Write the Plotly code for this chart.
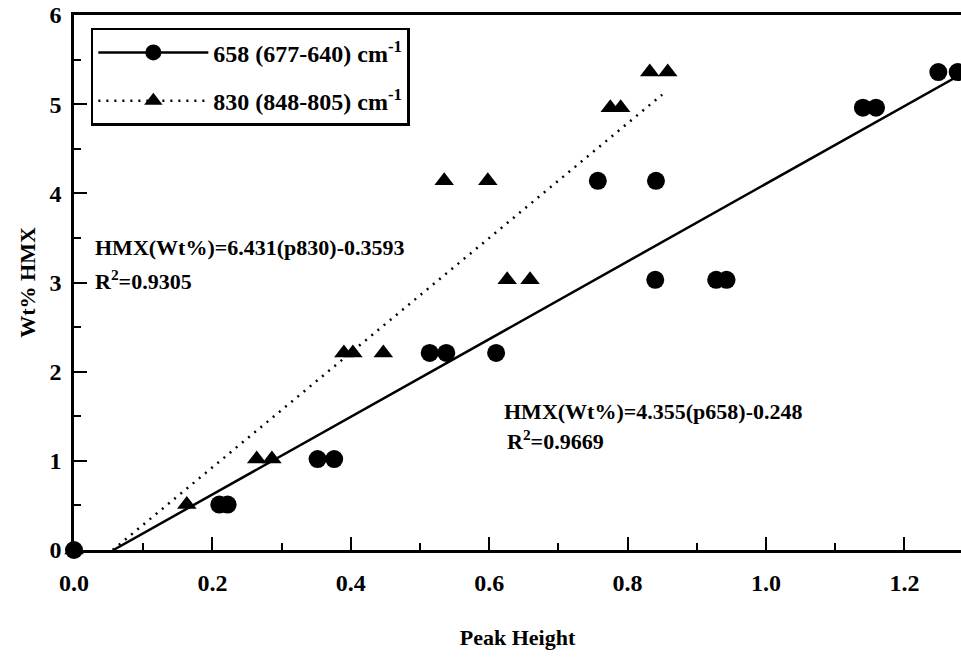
import plotly.graph_objects as go

# ---- data ----
x658 = [0.0, 0.210, 0.222, 0.352, 0.376, 0.514, 0.538, 0.610, 0.757, 0.841,
        0.840, 0.928, 0.943, 1.140, 1.159, 1.249, 1.277]
y658 = [0.0, 0.51, 0.51, 1.02, 1.02, 2.21, 2.21, 2.21, 4.14, 4.14,
        3.03, 3.03, 3.03, 4.96, 4.96, 5.36, 5.36]

x830 = [0.0, 0.163, 0.264, 0.286, 0.390, 0.403, 0.447, 0.535, 0.598,
        0.626, 0.659, 0.775, 0.790, 0.832, 0.858]
y830 = [0.0, 0.51, 1.02, 1.02, 2.21, 2.21, 2.21, 4.14, 4.14,
        3.03, 3.03, 4.96, 4.96, 5.36, 5.36]

# regression coefficients (from the chart's annotations)
m658, b658 = 4.355, -0.248
m830, b830 = 6.431, -0.3593
fit_end_658 = 1.32
fit_end_830 = 0.85

name658 = "658 (677-640) cm<sup>-1</sup>"
name830 = "830 (848-805) cm<sup>-1</sup>"
eq830 = "HMX(Wt%)=6.431(p830)-0.3593"
r2_830 = "R<sup>2</sup>=0.9305"
eq658 = "HMX(Wt%)=4.355(p658)-0.248"
r2_658 = "R<sup>2</sup>=0.9669"

xtitle = "Peak Height"
ytitle = "Wt% HMX"

FONT = "Liberation Serif"

fit658_x = [-b658 / m658, fit_end_658]
fit658_y = [m658 * v + b658 for v in fit658_x]
fit830_x = [-b830 / m830, fit_end_830]
fit830_y = [m830 * v + b830 for v in fit830_x]

fig = go.Figure()

# fit lines
fig.add_trace(go.Scatter(x=fit830_x, y=fit830_y, mode="lines", showlegend=False,
                         line=dict(color="black", width=2.5, dash="2px,6px"),
                         hoverinfo="skip"))
fig.add_trace(go.Scatter(x=fit658_x, y=fit658_y, mode="lines", showlegend=False,
                         line=dict(color="black", width=2.5), hoverinfo="skip"))

# points
fig.add_trace(go.Scatter(x=x830, y=y830, mode="markers", name=name830,
                         showlegend=False, cliponaxis=False,
                         marker=dict(symbol="triangle-up", size=17, color="black")))
fig.add_trace(go.Scatter(x=x658, y=y658, mode="markers", name=name658,
                         showlegend=False, cliponaxis=False,
                         marker=dict(symbol="circle", size=18, color="black")))

# legend entries (line + marker style of each series)
fig.add_trace(go.Scatter(x=[None], y=[None], mode="lines+markers", name=name658,
                         legendrank=1, legendgroup="a",
                         line=dict(color="black", width=2.5),
                         marker=dict(symbol="circle", size=18, color="black")))
fig.add_trace(go.Scatter(x=[None], y=[None], mode="lines+markers", name=name830,
                         legendrank=2, legendgroup="b",
                         line=dict(color="black", width=2.5, dash="2px,6px"),
                         marker=dict(symbol="triangle-up", size=17, color="black")))

ann_font = dict(family=FONT, size=22, color="black", weight="bold")
for txt, xx, yy in [(eq830, 0.027, 3.39), (r2_830, 0.027, 3.03),
                    (eq658, 0.618, 1.55), (r2_658, 0.623, 1.23)]:
    fig.add_annotation(x=xx, y=yy, text=txt, showarrow=False, xanchor="left",
                       yanchor="middle", font=ann_font)

tick_font = dict(family=FONT, size=24, color="black", weight="bold")
title_font = dict(family=FONT, size=22, color="black", weight="bold")

fig.update_xaxes(range=[0, 1.2818], tickvals=[0, 0.2, 0.4, 0.6, 0.8, 1.0, 1.2],
                 tickformat=".1f", ticks="inside", ticklen=13, tickwidth=1.5,
                 tickcolor="black", showline=True, linecolor="black", linewidth=2.5,
                 mirror=True, showgrid=False, zeroline=False, layer="below traces",
                 tickfont=tick_font, ticklabelstandoff=9,
                 minor=dict(dtick=0.1, ticks="inside", ticklen=7, tickwidth=1.5,
                            tickcolor="black", showgrid=False),
                 title=dict(text=xtitle, font=title_font, standoff=36))
fig.update_yaxes(range=[0, 6], dtick=1, ticks="inside", ticklen=13, tickwidth=1.5,
                 tickcolor="black", showline=True, linecolor="black", linewidth=2.5,
                 mirror=False, showgrid=False, zeroline=False, layer="below traces",
                 tickfont=tick_font, ticklabelstandoff=5,
                 minor=dict(dtick=0.5, ticks="inside", ticklen=7, tickwidth=1.5,
                            tickcolor="black", showgrid=False),
                 title=dict(text=ytitle, font=title_font, standoff=8))

fig.update_layout(
    width=961, height=661,
    margin=dict(l=74, r=0, t=15, b=111),
    plot_bgcolor="white", paper_bgcolor="white",
    legend=dict(x=0.019, y=0.976, xanchor="left", yanchor="top",
                bordercolor="black", borderwidth=2.5, bgcolor="white",
                font=dict(family=FONT, size=24, color="black", weight="bold"),
                itemwidth=110, tracegroupgap=14, traceorder="grouped"),
)

fig.write_html("out.html")
